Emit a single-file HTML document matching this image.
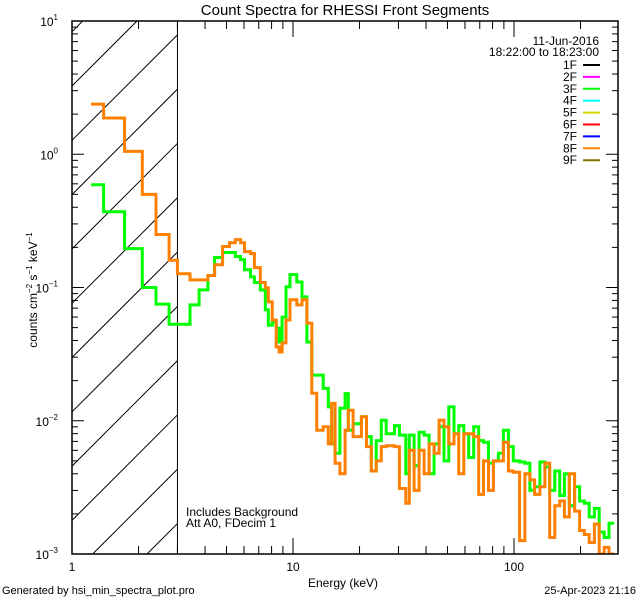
<!DOCTYPE html>
<html><head><meta charset="utf-8"><style>
html,body{margin:0;padding:0;background:#fff;width:640px;height:600px;overflow:hidden}
svg{display:block;font-family:"Liberation Sans",sans-serif;overflow:hidden}
</style></head><body>
<svg id="chart" width="640" height="600" viewBox="0 0 640 600">
<rect width="640" height="600" fill="#fff"/>
<text x="345" y="15" font-size="15" text-anchor="middle">Count Spectra for RHESSI Front Segments</text>
<g id="plot"></g>
<text x="343" y="587" font-size="12" text-anchor="middle">Energy (keV)</text>
<text transform="translate(37,290) rotate(-90)" font-size="12" text-anchor="middle">counts cm<tspan font-size="8" dy="-5">−2</tspan><tspan dy="5"> s</tspan><tspan font-size="8" dy="-5">−1</tspan><tspan dy="5"> keV</tspan><tspan font-size="8" dy="-5">−1</tspan></text>
<text x="2" y="594" font-size="11">Generated by hsi_min_spectra_plot.pro</text>
<text x="636" y="594" font-size="11" text-anchor="end">25-Apr-2023 21:16</text>
<text x="186" y="516" font-size="12">Includes Background</text>
<text x="186" y="527" font-size="12">Att A0, FDecim 1</text>
<text x="599" y="45" font-size="12" text-anchor="end">11-Jun-2016</text>
<text x="599" y="56" font-size="12" text-anchor="end">18:22:00 to 18:23:00</text>
<g id="legend"></g>
</svg>
<script>
const edges=[1.22,1.39,1.73,2.08,2.40,2.75,
3.0,3.42,3.76,4.12,4.42,4.80,5.16,5.49,5.79,6.03,6.42,6.69,7.11,7.49,7.73,8.05,8.39,8.65,8.93,9.30,9.69,10.4,10.98,11.56,12.17,
12.8,13.7,14.45,14.96,15.5,16.3,17.2,17.8,18.7,20.4,21.5,22.6,23.8,25.1,26.4,28.8,30.3,32.4,33.6,35.3,37.2,39.2,41.3,43.5,45.8,48.2,50.7,53.5,56.2,59.3,62.4,65.7,69.2,72.8,76.7,80.7,85.0,89.5,94.3,99.3,106,112,118,124,131,138,145,153,161,169,178,188,198,208,219,231,243,256,269,284];
const orange=[2.38,1.87,1.05,0.50,0.25,0.16,
.127,.114,.114,.123,.148,.203,.217,.229,.217,.186,.180,.141,.109,.0996,.078,.057,.0358,.0328,.0384,.057,.081,.074,.081,.054,.0161,
.0085,.009,.0067,.0135,.0048,.004,.0085,.012,.0076,.0107,.0064,.0042,.005,.0064,.0065,.0064,.0031,.0024,.006,.003,.006,.004,.0067,.0057,.0101,.009,.0067,.008,.004,.008,.008,.0076,.0028,.005,.003,.005,.005,.0069,.0042,.0041,.00126,.004,.0036,.0028,.0032,.0048,.00133,.0023,.0025,.0019,.004,.0021,.0015,.0014,.00122,.00168,.001,.00112,.00095];
const green=[0.59,0.37,0.196,0.10,0.075,0.053,
.053,.074,.096,.123,.168,.183,.183,.171,.162,.136,.120,.109,.096,.068,.052,.055,.0497,.039,.060,.101,.125,.110,.085,.039,.022,
.022,.0175,.0127,.0067,.0057,.0124,.016,.0085,.0095,.0107,.0076,.0042,.0071,.0101,.008,.0092,.0078,.004,.0078,.0046,.0082,.0078,.004,.0067,.009,.005,.0127,.008,.0092,.008,.0053,.009,.0071,.0069,.0048,.005,.0057,.0085,.0064,.005,.0049,.0048,.003,.0032,.0049,.0045,.003,.0042,.00275,.004,.0023,.0032,.0025,.0024,.0019,.0022,.00146,.00133,.0017];
const xTickLabels=["1","10","100"];
const yTickExps=["1","0","−1","−2","−3"];
const legendLabels=["1F","2F","3F","4F","5F","6F","7F","8F","9F"];
const legendColors=["#000","#ff00ff","#00ff00","#00ffff","#d4d400","#ff0000","#0000ff","#ff8000","#807000"];

const NS="http://www.w3.org/2000/svg";
const L=72,R=618,T=21,B=554;
const xmin=0,dec=221;
const X=e=>L+dec*(Math.log10(e)-xmin);
const Y=v=>T+(1-Math.log10(v))*(B-T)/4;
const plot=document.getElementById('plot');
function mk(tag,attrs,parent){const el=document.createElementNS(NS,tag);for(const k in attrs)el.setAttribute(k,attrs[k]);(parent||plot).appendChild(el);return el;}

const defs=mk('defs',{});
const cp=mk('clipPath',{id:'pc'},defs);mk('rect',{x:L,y:T,width:R-L,height:B-T},cp);

// hatch lines, manually clipped to the region L..X(3), T..B (slope -1)
const hg=mk('g',{});


const HX=X(3);
for(let y0=86-54.3*2;y0<B+(HX-L);y0+=54.3){
  // line: y = y0 - (x - L)
  let xa=L,ya=y0;
  if(ya>B){xa=L+(ya-B);ya=B;}
  let xb=HX,yb=y0-(HX-L);
  if(yb<T){xb=L+(y0-T);yb=T;}
  if(xa>=xb)continue;
  mk('line',{x1:xa,y1:ya,x2:xb,y2:yb,stroke:'#000','stroke-width':1},hg);
}
const vl=mk('line',{x1:HX,y1:T,x2:HX,y2:B,stroke:'#000','stroke-width':1});



function series(vals,color,name){
  let d='';
  for(let i=0;i<vals.length;i++){
    const x0=X(edges[i]),x1=Math.min(X(edges[i+1]),R),y=Math.min(Y(vals[i]),B);
    d+=(i===0?'M':'L')+x0.toFixed(1)+','+y.toFixed(1)+'L'+x1.toFixed(1)+','+y.toFixed(1);
  }
  const p=mk('path',{d:d,fill:'none',stroke:color,'stroke-width':3,'clip-path':'url(#pc)','stroke-linejoin':'miter'});
  
  
}
series(green,'#00ff00','series-3f');
series(orange,'#ff8000','series-8f');

const box=mk('rect',{x:L,y:T,width:R-L,height:B-T,fill:'none',stroke:'#000','stroke-width':1.5});



for(let p=0;p<3;p++){
  for(let m=1;m<10;m++){
    const e=m*Math.pow(10,p);const x=X(e);if(x>R)break;
    const len=m===1?16:8;
    mk('line',{x1:x,y1:B,x2:x,y2:B-len,stroke:'#000'});
    mk('line',{x1:x,y1:T,x2:x,y2:T+len,stroke:'#000'});
  }
  const t=mk('text',{x:X(Math.pow(10,p)),y:571,'font-size':12,'text-anchor':'middle'});
  t.textContent=xTickLabels[p];
  
  
}
for(let p=-3;p<=1;p++){
  for(let m=1;m<10;m++){
    const v=m*Math.pow(10,p);if(v>10)break;const y=Y(v);
    const len=m===1?12:6;
    mk('line',{x1:L,y1:y,x2:L+len,y2:y,stroke:'#000'});
    if(p<1)mk('line',{x1:R,y1:y,x2:R-len,y2:y,stroke:'#000'});
    else mk('line',{x1:R,y1:y,x2:R-len,y2:y,stroke:'#000'});
  }
  const t=mk('text',{x:58,y:Y(Math.pow(10,p))+5,'font-size':12,'text-anchor':'end'});
  t.innerHTML='10<tspan font-size="8" dy="-6">'+yTickExps[1-p]+'</tspan>';
  
  
}
const lg=document.getElementById('legend');
legendLabels.forEach((lab,i)=>{
  const y=65+i*11.9;
  const t=mk('text',{x:577,y:y+4,'font-size':12,'text-anchor':'end'},lg);
  t.textContent=lab;
  
  
  const l=mk('line',{x1:583,y1:y,x2:600,y2:y,stroke:legendColors[i],'stroke-width':2},lg);
  
  
});
</script>
</body></html>
